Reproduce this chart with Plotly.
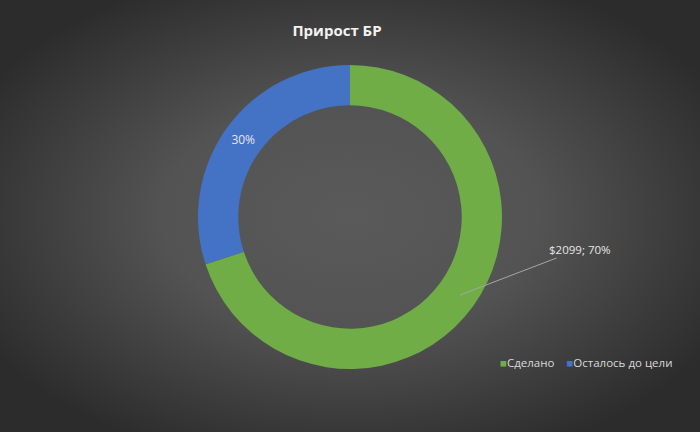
import base64
import plotly.graph_objects as go

# ---- data ----
title_text = "Прирост БР"
categories = ["Сделано", "Осталось до цели"]
values = [2099, 901]
colors = ["#70ad47", "#4472c4"]
green_label = "$2099; 70%"

W, H = 700, 432

# radial gradient background
svg = f'''<svg xmlns="http://www.w3.org/2000/svg" width="{W}" height="{H}" viewBox="0 0 {W} {H}" preserveAspectRatio="none">
<defs><radialGradient id="g" cx="50%" cy="50%" r="60%">
<stop offset="0%" stop-color="#5a5a5a"/>
<stop offset="45%" stop-color="#535353"/>
<stop offset="100%" stop-color="#2c2c2c"/>
</radialGradient></defs>
<rect width="{W}" height="{H}" fill="url(#g)"/></svg>'''
bg_src = "data:image/svg+xml;base64," + base64.b64encode(svg.encode()).decode()

fig = go.Figure()
fig.add_trace(go.Pie(
    labels=categories,
    values=values,
    hole=0.735,
    sort=False,
    direction="clockwise",
    rotation=0,
    marker=dict(colors=colors, line=dict(width=0)),
    texttemplate=["", "%{percent:.0%}"],
    textposition="inside",
    insidetextorientation="horizontal",
    textfont=dict(color="#e6e6e6", size=12, family="Open Sans"),
    domain=dict(x=[198 / W, 502 / W], y=[1 - 369 / H, 1 - 65 / H]),
    showlegend=False,
    hoverinfo="label+value+percent",
))

legend_html = "&nbsp;&nbsp;&nbsp;&nbsp;".join(
    f'<span style="color:{c}">■</span>{name}' for c, name in zip(colors, categories)
)

fig.update_layout(
    width=W, height=H,
    margin=dict(l=0, r=0, t=0, b=0),
    paper_bgcolor="#404040",
    plot_bgcolor="rgba(0,0,0,0)",
    images=[dict(source=bg_src, xref="paper", yref="paper", x=0, y=1,
                 sizex=1, sizey=1, sizing="stretch", layer="below")],
    title=dict(text="<b>" + title_text + "</b>", x=337 / W, xanchor="center",
               y=1 - 31 / H, yanchor="middle",
               font=dict(size=15, color="#f2f2f2", family="Open Sans")),
    annotations=[
        dict(
            text=green_label, xref="paper", yref="paper",
            x=460 / W, y=1 - 295 / H, ax=120, ay=-46,
            showarrow=True, arrowhead=0, arrowwidth=1, arrowcolor="#a6a6a6",
            standoff=0, font=dict(size=11.5, color="#e6e6e6", family="Open Sans"),
        ),
        dict(
            text=legend_html, xref="paper", yref="paper",
            x=674 / W, xanchor="right", y=1 - 362 / H, yanchor="middle",
            showarrow=False, font=dict(size=11.5, color="#d9d9d9", family="Open Sans"),
        ),
    ],
)

fig.write_html(
    "out.html",
    config={"displayModeBar": False},
    post_script="document.body.style.margin='0';document.body.style.overflow='hidden';",
)
